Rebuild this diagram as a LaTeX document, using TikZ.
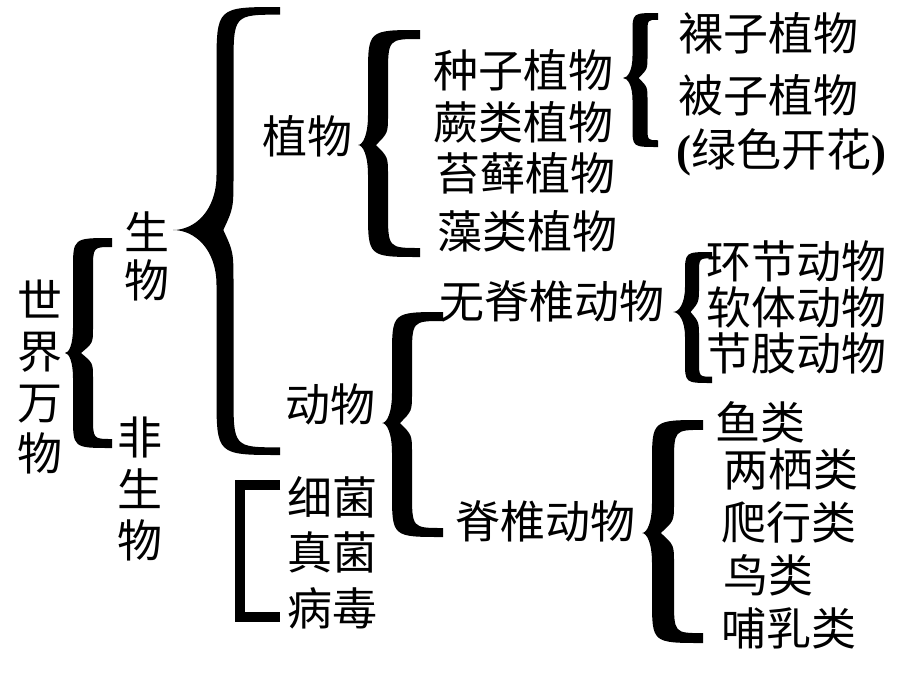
\documentclass[tikz,border=0pt]{standalone}
\usepackage{fontspec}
\setmainfont{Noto Sans CJK SC}
\newfontfamily\tnr{Liberation Serif}
% curly brace: #1 tip x, #2 tip y, #3 stem x, #4 end x, #5 top y, #6 bottom y, #7 thickness, #8 tip reach
\newcommand{\cbr}[8]{%
 \pgfmathsetmacro\brA{#3-#7/2}%
 \pgfmathsetmacro\brB{#3+#7/2}%
 \pgfmathsetmacro\brTe{#7*0.45}%
 \pgfmathsetmacro\brC{(#4-#3)*1.1}%
 \pgfmathsetmacro\brN{#3-#7*0.1}%
 \fill (#4,#5)
  .. controls (\brA,#5) .. (\brA,{#5+\brC})
  -- (\brA,{#2-#8})
  .. controls (\brA,{#2-0.35*#8}) and ({(\brA+#1)/2},#2) .. (#1,#2)
  .. controls ({(\brA+#1)/2},#2) and (\brA,{#2+0.35*#8}) .. (\brA,{#2+#8})
  -- (\brA,{#6-\brC})
  .. controls (\brA,#6) .. (#4,#6)
  -- (#4,{#6-\brTe})
  .. controls (\brB,{#6-\brTe}) .. (\brB,{#6-\brC})
  -- (\brB,{#2+#8})
  .. controls (\brB,{#2+0.4*#8}) .. (\brN,#2)
  .. controls (\brB,{#2-0.4*#8}) .. (\brB,{#2-#8})
  -- (\brB,{#5+\brC})
  .. controls (\brB,{#5+\brTe}) .. (#4,{#5+\brTe})
  -- cycle;}
\begin{document}
\begin{tikzpicture}[x=0.75pt,y=-0.75pt,
  lbl/.style={inner sep=0pt,font=\fontsize{33.75}{38.25}\selectfont},
  lw/.style={lbl,anchor=west}]
\useasboundingbox (0,0) rectangle (920,690);
\fill[white] (0,0) rectangle (920,690);
% vertical labels
\node[lbl,align=center] (world) at (40,377) {世\\界\\万\\物};
\node[lbl,align=center,font=\fontsize{33.75}{36}\selectfont] (life) at (147,256) {生\\物};
\node[lbl,align=center,font=\fontsize{33.75}{38.6}\selectfont] (nonlife) at (140,489) {非\\生\\物};
% level 2
\node[lbl] (plant) at (307,136) {植物};
\node[lbl] (animal) at (330,404) {动物};
% plants
\node[lw] (seed) at (433,70) {种子植物};
\node[lw] (fern) at (433,122) {蕨类植物};
\node[lw] (moss) at (435,173) {苔藓植物};
\node[lw] (alga) at (437,231) {藻类植物};
\node[lw] (gymno) at (678,33) {裸子植物};
\node[lw] (angio) at (678,95) {被子植物};
\node[lw] (flower) at (676,152) {{\tnr\bfseries (}绿色开花{\tnr\bfseries )}};
% animals
\node[lw] (invert) at (439,301) {无脊椎动物};
\node[lw] (vert) at (455,521) {脊椎动物};
\node[lw] (annel) at (706,261) {环节动物};
\node[lw] (mollus) at (706,307) {软体动物};
\node[lw] (arthro) at (706,353) {节肢动物};
\node[lw] (fish) at (715,422) {鱼类};
\node[lw] (amph) at (723,469) {两栖类};
\node[lw] (rept) at (721,522) {爬行类};
\node[lw] (bird) at (723,575) {鸟类};
\node[lw] (mamm) at (721,628) {哺乳类};
% non-living
\node[lw] (bact) at (287,497) {细菌};
\node[lw] (fungi) at (287,552) {真菌};
\node[lw] (virus) at (287,608) {病毒};
% braces
\cbr{65}{353}{83}{112}{238}{448}{20}{25}
\cbr{173}{230}{225}{280}{7}{455}{17}{55}
\cbr{358}{145}{378}{420}{30}{257}{20}{30}
\cbr{382}{423}{402}{443}{312}{537}{20}{30}
\cbr{673}{312}{692}{712}{252}{383}{14}{25}
\cbr{642}{533}{663}{703}{420}{643}{22}{30}
\cbr{623}{78}{640}{658}{13}{147}{15}{22}
% bracket
\draw[line width=7.5pt,line join=miter] (280,485) -- (240,485) -- (240,617) -- (280,617);
\end{tikzpicture}
\end{document}
